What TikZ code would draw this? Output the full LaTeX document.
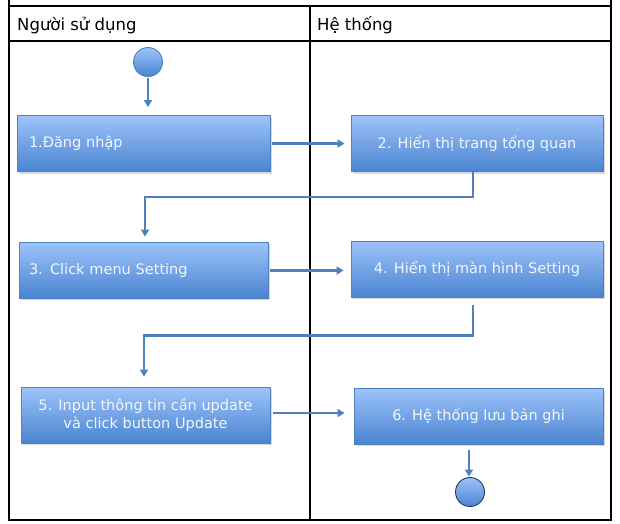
\documentclass[tikz,border=0pt]{standalone}
\usepackage{fontspec}
\setmainfont{DejaVu Sans}
\usetikzlibrary{arrows.meta,shadows,calc}
\definecolor{boxtop}{HTML}{9DC3FA}
\definecolor{boxbot}{HTML}{4A84D0}
\definecolor{boxline}{HTML}{4F81BD}
\definecolor{connc}{HTML}{4F81BD}
\definecolor{txtc}{HTML}{F2F6FC}
\definecolor{endline}{HTML}{1F3864}
\begin{document}
\begin{tikzpicture}[x=1pt,y=-1pt,
  grid/.style={draw=black,line width=1.3pt},
  stepbox/.style={rectangle,draw=boxline,line width=0.8pt,top color=boxtop,bottom color=boxbot,
    minimum height=56pt,inner xsep=0pt,inner ysep=0pt,text=txtc,
    font=\fontsize{14.5}{18}\selectfont,
    drop shadow={shadow xshift=1.5pt,shadow yshift=-2pt,opacity=0.3,fill=black!50}},
  leftbox/.style={stepbox,text width=#1,align=left},
  ctrbox/.style={stepbox,minimum width=#1,align=center},
  startend/.style={circle,top color=boxtop,bottom color=boxbot,line width=0.9pt,inner sep=0pt,minimum size=29pt},
  conn/.style={draw=connc,line width=2.5pt,-{Triangle[width=8pt,length=7pt]}},
  hdr/.style={anchor=base west,font=\fontsize{16.5}{20}\selectfont,inner sep=0pt}]
\useasboundingbox (0,0) rectangle (620,523);
% table
\draw[grid] (9,0) -- (9,520) -- (611,520) -- (611,0);
\draw[grid] (9,6) -- (611,6);
\draw[grid] (9,41) -- (611,41);
\draw[grid] (310,6) -- (310,520);
\node[hdr] (h1) at (17,30) {Người sử dụng};
\node[hdr] (h2) at (317,30) {Hệ thống};
% nodes
\node[startend,draw=boxline] (start) at (148,62) {};
\node[leftbox=229pt,minimum width=253pt,inner xsep=12pt] (b1) at (143.5,143.5) {1.Đăng nhập};
\node[ctrbox=252pt] (b2) at (477,143.5) {2. Hiển thị trang tổng quan};
\node[leftbox=229pt,minimum width=249pt,inner xsep=10pt] (b3) at (143.5,270) {3. Click menu Setting};
\node[ctrbox=252pt] (b4) at (477,269) {4. Hiển thị màn hình Setting};
\node[ctrbox=249pt] (b5) at (145.5,415) {5. Input thông tin cần update\\và click button Update};
\node[ctrbox=249pt] (b6) at (478.5,416) {6. Hệ thống lưu bản ghi};
\node[startend,draw=endline] (end) at (470,492) {};
% connectors
\draw[conn,shorten <=1.5pt,shorten >=8pt] (start.south) -- (start.south |- b1.north);
\draw[conn,shorten <=2pt,shorten >=6pt] (b1.east) -- (b1.east -| b2.west);
\draw[conn,shorten >=5pt] ([xshift=-4pt]b2.south) -- ++(0,25) -| ([xshift=1.5pt]b3.north);
\draw[conn,shorten <=2pt,shorten >=7pt] ([yshift=-0.5pt]b3.east) -- ([yshift=-0.5pt]b3.east -| b4.west);
\draw[conn,shorten <=8pt,shorten >=10pt] ([xshift=-4pt]b4.south) -- ++(0,38) -| ([xshift=-1.5pt]b5.north);
\draw[conn,shorten <=3pt,shorten >=9pt] ([yshift=2pt]b5.east) -- ([yshift=2pt]b5.east -| b6.west);
\draw[conn,shorten <=6pt,shorten >=0.5pt] ([xshift=-9.5pt]b6.south) -- ([xshift=-9.5pt]b6.south |- end.north);
\end{tikzpicture}
\end{document}
